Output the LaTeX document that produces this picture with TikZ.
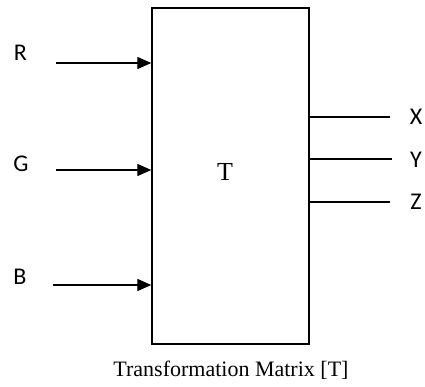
\documentclass[tikz,border=0pt]{standalone}
\usepackage{fontspec}
\setmainfont{Liberation Serif}
\newfontfamily\lblfont{Carlito}
\usetikzlibrary{arrows.meta}
\begin{document}
\begin{tikzpicture}[x=1bp,y=-1bp,
  wire/.style={line width=1.4bp},
  inarrow/.style={wire,-{Triangle[length=14bp,width=12bp]}},
  lbl/.style={font=\lblfont\fontsize{24bp}{28bp}\selectfont,inner sep=0pt},
  serif/.style={font=\fontsize{22bp}{26bp}\selectfont,inner sep=0pt}]
\useasboundingbox (0,0) rectangle (425,387);
\node[draw,line width=1.4bp,minimum width=157bp,minimum height=336bp,inner sep=0pt] (T) at (230.5,176) {};
\node[serif,font=\fontsize{26bp}{30bp}\selectfont] (Tl) at (225,172) {T};
\node[serif] (cap) at (231,370) {Transformation Matrix [T]};
% inputs
\coordinate (r0) at (56,63);
\coordinate (g0) at (56,170);
\coordinate (b0) at (53,285);
\node[lbl] (R) at (20.5,53) {R};
\node[lbl] (G) at (21,164) {G};
\node[lbl] (B) at (20,277) {B};
\draw[inarrow] (r0) -- (T.west |- r0);
\draw[inarrow] (g0) -- (T.west |- g0);
\draw[inarrow] (b0) -- (T.west |- b0);
% outputs
\coordinate (x1) at (390,117);
\coordinate (y1) at (392,159);
\coordinate (z1) at (390,202);
\draw[wire] (T.east |- x1) -- (x1);
\draw[wire] (T.east |- y1) -- (y1);
\draw[wire] (T.east |- z1) -- (z1);
\node[lbl] (X) at (416,117) {X};
\node[lbl] (Y) at (416,160) {Y};
\node[lbl] (Z) at (416,202) {Z};
\end{tikzpicture}
\end{document}
